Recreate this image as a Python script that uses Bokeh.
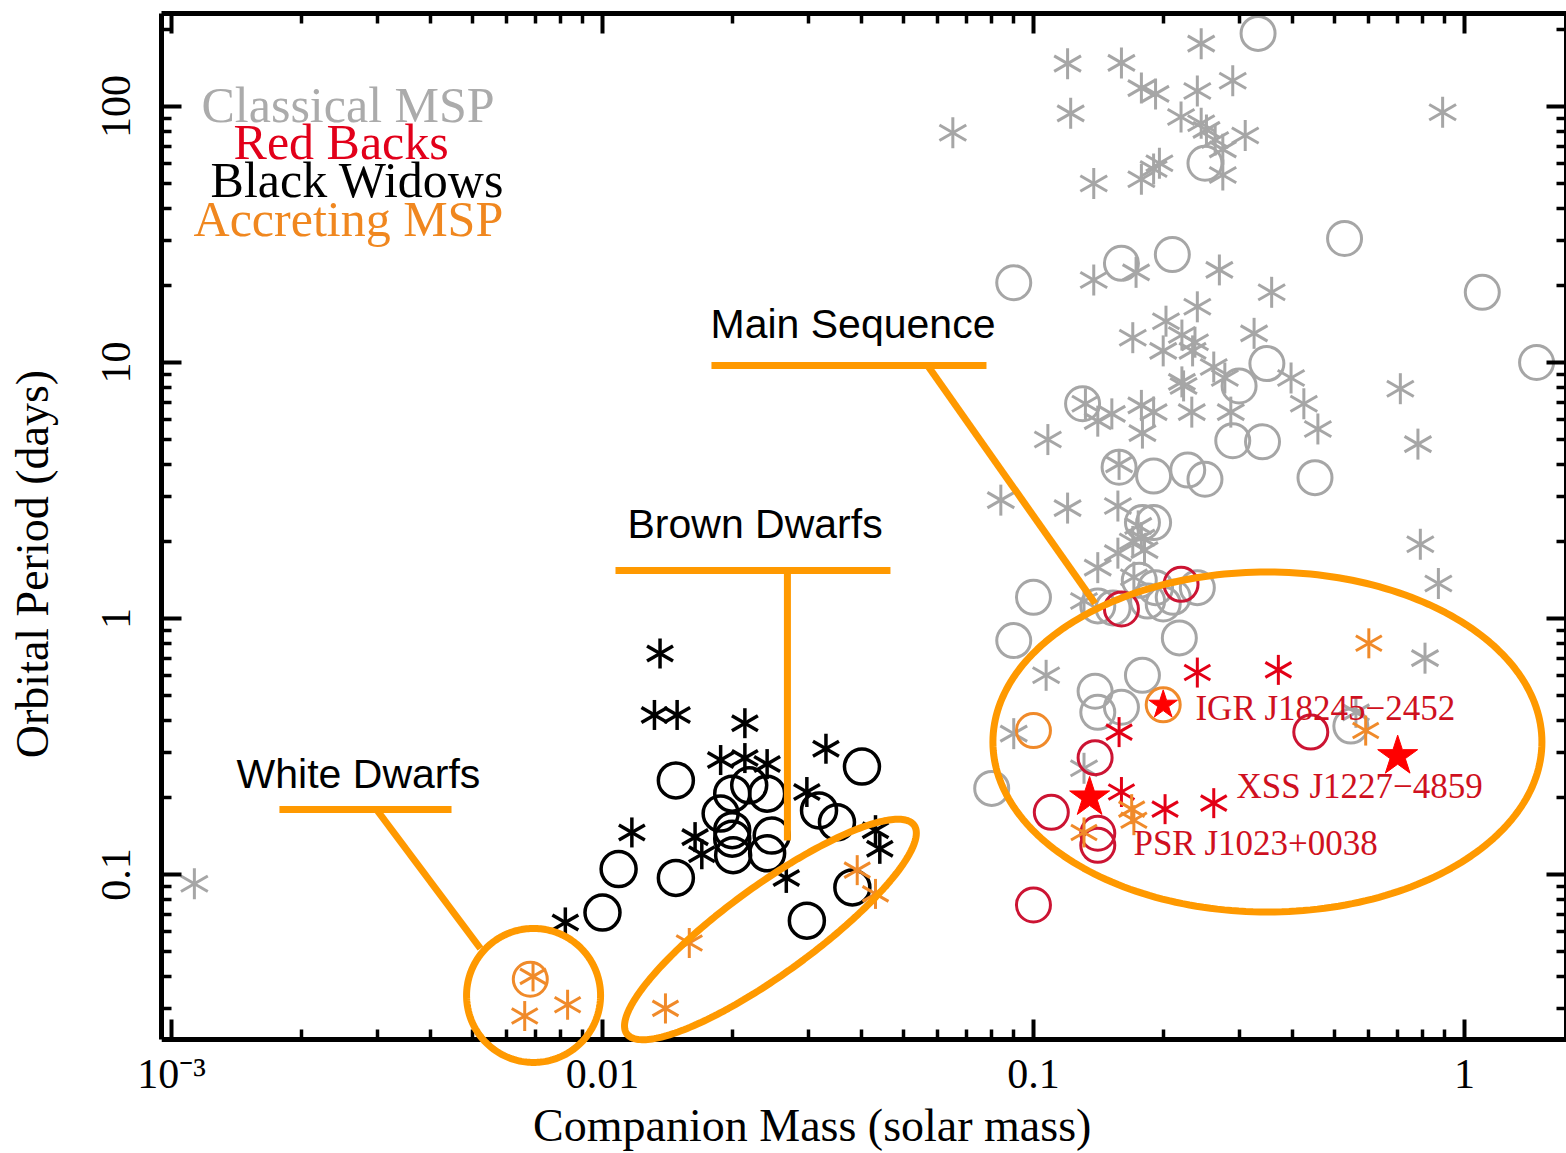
import math

from bokeh.core.properties import value
from bokeh.embed import file_html
from bokeh.models import ColumnDataSource, FixedTicker, LogAxis, PolyAnnotation, Range1d
from bokeh.plotting import figure
from bokeh.resources import INLINE

# ---------------------------------------------------------------------------
# Binary millisecond pulsars: companion mass (solar masses) vs orbital period (days)
# ---------------------------------------------------------------------------

# Classical MSPs (grey) - asterisks
msp_ast_mass = [0.245, 0.12, 0.16, 0.178, 0.192, 0.24, 0.29, 0.122, 0.065, 0.22,
                0.245, 0.252, 0.264, 0.275, 0.31, 0.89, 0.275, 0.138, 0.178, 0.19,
                0.196, 0.173, 0.138, 0.27, 0.357, 0.24, 0.203, 0.17, 0.221, 0.237,
                0.325, 0.2, 0.234, 0.262, 0.278, 0.221, 0.223, 0.396, 0.424, 0.457,
                0.71, 0.78, 0.132, 0.141, 0.152, 0.178, 0.19, 0.179, 0.233, 0.287,
                0.108, 0.084, 0.12, 0.157, 0.175, 0.17, 0.178, 0.157, 0.181, 0.79,
                0.87, 0.141, 0.171, 0.131, 0.81, 0.107, 0.09, 0.131, 0.56, 0.00113,
                0.158]
msp_ast_pb = [176, 147, 148, 118, 112, 115, 126, 94, 79, 91,
              86, 81, 74, 68, 77, 95, 54, 50, 52, 57,
              60, 22.5, 21, 23, 18.8, 16.5, 14.5, 12.5, 12.8, 12,
              13, 11.1, 11.1, 9.6, 8.7, 8.4, 8.1, 8.7, 6.9, 5.5,
              7.9, 4.8, 6.9, 5.9, 6.3, 6.8, 6.4, 5.3, 6.4, 6.4,
              5.0, 2.9, 2.7, 2.75, 2.3, 2.0, 2.07, 1.8, 1.85, 1.95,
              1.37, 1.58, 1.45, 1.17, 0.70, 0.60, 0.355, 0.26, 0.43, 0.092,
              4.0]

# Classical MSPs (grey) - circles
msp_circ_mass = [0.332, 0.25, 0.527, 0.09, 0.16, 0.21, 1.10, 0.348, 1.47, 0.30,
                 0.13, 0.29, 0.34, 0.158, 0.19, 0.228, 0.25, 0.45, 0.179, 0.19,
                 0.176, 0.192, 0.24, 0.1, 0.141, 0.153, 0.184, 0.2, 0.211, 0.09,
                 0.218, 0.179, 0.139, 0.141, 0.16, 0.08, 0.545]
msp_circ_pb = [193, 60, 30.5, 20.5, 24.4, 26.4, 18.8, 9.9, 10, 8.1,
               6.9, 4.95, 4.9, 3.9, 3.6, 3.8, 3.5, 3.55, 2.37, 2.37,
               1.41, 1.32, 1.32, 1.21, 1.12, 1.1, 1.17, 1.14, 1.21, 0.82,
               0.84, 0.60, 0.52, 0.43, 0.45, 0.217, 0.38]

# Black widows
bw_ast_mass = [0.0136, 0.0132, 0.0149, 0.0214, 0.0188, 0.0214, 0.0241, 0.033,
               0.0298, 0.0117, 0.0164, 0.017, 0.0267, 0.043, 0.044, 0.0082]
bw_ast_pb = [0.73, 0.42, 0.42, 0.39, 0.28, 0.285, 0.27, 0.31,
             0.21, 0.146, 0.14, 0.12, 0.097, 0.149, 0.126, 0.065]
bw_circ_mass = [0.0148, 0.020, 0.0219, 0.0241, 0.0188, 0.020, 0.020, 0.0247, 0.0201,
                0.0241, 0.040, 0.0318, 0.035, 0.0109, 0.0148, 0.038, 0.0298, 0.010]
bw_circ_pb = [0.233, 0.207, 0.223, 0.207, 0.173, 0.149, 0.138, 0.142, 0.119,
              0.121, 0.264, 0.178, 0.16, 0.105, 0.097, 0.089, 0.066, 0.071]

# Redbacks
rb_ast_mass = [0.24, 0.37, 0.158, 0.16, 0.202, 0.262]
rb_ast_pb = [0.615, 0.63, 0.36, 0.21, 0.18, 0.19]
rb_circ_mass = [0.139, 0.11, 0.141, 0.141, 0.44, 0.10, 0.16, 0.22]
rb_circ_pb = [0.286, 0.175, 0.145, 0.13, 0.36, 0.076, 1.09, 1.36]

# Accreting MSPs
acc_ast_mass = [0.0069, 0.0066, 0.0083, 0.0159, 0.014, 0.039, 0.043, 0.60, 0.59,
                0.169, 0.171, 0.131]
acc_ast_pb = [0.040, 0.028, 0.031, 0.054, 0.030, 0.104, 0.084, 0.80, 0.365,
              0.18, 0.163, 0.146]
acc_circ_mass = [0.0068, 0.2, 0.1]
acc_circ_pb = [0.039, 0.46, 0.365]

# Transitional redbacks (named)
tmsp_names = ["IGR J18245\u22122452", "XSS J1227\u22124859", "PSR J1023+0038"]
tmsp_mass = [0.2, 0.70, 0.135]
tmsp_pb = [0.46, 0.29, 0.20]

# Axis ticks
x_major = [0.001, 0.01, 0.1, 1.0]
x_labels = ["10\u207b\u00b3", "0.01", "0.1", "1"]
y_major = [0.1, 1.0, 10.0, 100.0]
y_labels = ["0.1", "1", "10", "100"]

# ---------------------------------------------------------------------------
# Colours and layout
# ---------------------------------------------------------------------------
GREY = "#a6a6a6"
BLACK = "#000000"
RED_AST = "#e30016"
RED_CIRC = "#cc1433"
ORANGE_PT = "#f08a2a"
ANNOT = "#ff9900"
SERIF = "Liberation Serif"
SANS = "Liberation Sans"

# Axis extents (where the drawn axes sit)
X_LO, X_HI = 0.000948, 1.725
Y_AX_LO, Y_HI = 0.02267, 230.8
# The frame reaches a little below the period axis so the
# white-dwarf ring can dip under it.
Y_FRAME_LO = 0.01747
FRAME_W, FRAME_H = 1405, 1055
PX_DEC_X = FRAME_W / (math.log10(X_HI) - math.log10(X_LO))
PX_DEC_Y = FRAME_H / (math.log10(Y_HI) - math.log10(Y_FRAME_LO))

p = figure(width=1566, height=1153,
           x_axis_type="log", y_axis_type="log",
           x_range=Range1d(X_LO, X_HI), y_range=Range1d(Y_FRAME_LO, Y_HI),
           output_backend="svg", toolbar_location=None,
           min_border_left=161, min_border_right=0,
           min_border_top=13, min_border_bottom=85)
p.border_fill_color = None
p.background_fill_color = "white"
p.outline_line_color = None
p.grid.visible = False


def minor_ticks(lo_exp, hi_exp, lo=0.0):
    return [k * 10.0 ** e for e in range(lo_exp, hi_exp) for k in range(2, 10)
            if k * 10.0 ** e > lo]


x_ticker = FixedTicker(ticks=x_major, minor_ticks=minor_ticks(-4, 1))
y_ticker = FixedTicker(ticks=y_major, minor_ticks=minor_ticks(-2, 3, Y_AX_LO))
no_ticks = FixedTicker(ticks=[], minor_ticks=[])


def style_axis(ax):
    ax.axis_line_width = 5
    ax.axis_line_color = "black"
    ax.major_tick_in = 20
    ax.major_tick_out = 0
    ax.minor_tick_in = 10
    ax.minor_tick_out = 0
    ax.major_tick_line_width = 4
    ax.minor_tick_line_width = 3.5
    ax.major_tick_line_color = "black"
    ax.minor_tick_line_color = "black"
    ax.major_label_text_font = SERIF
    ax.major_label_text_font_size = "42px"
    ax.major_label_text_color = "black"
    ax.axis_label_text_font = SERIF
    ax.axis_label_text_font_size = "46px"
    ax.axis_label_text_font_style = "normal"
    ax.axis_label_text_color = "black"


def hide_lines(ax):
    ax.axis_line_color = None
    ax.major_tick_line_color = None
    ax.minor_tick_line_color = None


def hide_labels(ax):
    ax.major_label_text_font_size = "1px"
    ax.major_label_text_color = None
    ax.major_label_standoff = 0


NB = "\u00a0"

# Mass axis: labels sit in the panel below the frame ...
xa = p.xaxis[0]
xa.ticker = x_ticker
xa.major_label_overrides = dict(zip(x_major, x_labels))
style_axis(xa)
hide_lines(xa)
xa.major_label_standoff = -18
xa.axis_label = "Companion Mass (solar mass)" + NB * 9
xa.axis_label_standoff = 0

# ... while the line and ticks are drawn at the lower period limit
x_line = LogAxis(ticker=x_ticker, fixed_location=Y_AX_LO)
style_axis(x_line)
hide_labels(x_line)
p.add_layout(x_line, "below")

# Period axis
ya = p.yaxis[0]
ya.ticker = y_ticker
ya.major_label_overrides = dict(zip(y_major, y_labels))
style_axis(ya)
ya.bounds = (Y_AX_LO, Y_HI)
ya.major_label_orientation = "vertical"
ya.major_label_standoff = 31

y_title = LogAxis(ticker=no_ticks)
style_axis(y_title)
hide_lines(y_title)
hide_labels(y_title)
y_title.axis_label = "Orbital Period (days)" + NB * 4
y_title.axis_label_standoff = 42
p.add_layout(y_title, "left")

# Tick-only frame edges on top and right
top_ax = LogAxis(ticker=x_ticker)
style_axis(top_ax)
hide_labels(top_ax)
p.add_layout(top_ax, "above")

right_ax = LogAxis(ticker=y_ticker, bounds=(Y_AX_LO, Y_HI))
style_axis(right_ax)
hide_labels(right_ax)
p.add_layout(right_ax, "right")


# ---------------------------------------------------------------------------
# Markers
# ---------------------------------------------------------------------------
def asterisks(mass, pb, color, size, lw):
    src = ColumnDataSource(dict(x=mass, y=pb))
    for ang in (math.pi / 2, math.pi / 6, -math.pi / 6):
        p.scatter("x", "y", source=src, marker="dash", angle=ang, size=size,
                  line_color=color, line_width=lw)


def circles(mass, pb, color, size, lw):
    p.scatter(mass, pb, marker="circle", size=size, fill_color=None,
              line_color=color, line_width=lw)


circles(msp_circ_mass, msp_circ_pb, GREY, 34, 3)
asterisks(msp_ast_mass, msp_ast_pb, GREY, 31, 3)
circles(bw_circ_mass, bw_circ_pb, BLACK, 35, 3.5)
asterisks(bw_ast_mass, bw_ast_pb, BLACK, 30, 3.5)
circles(rb_circ_mass, rb_circ_pb, RED_CIRC, 34, 3)
asterisks(rb_ast_mass, rb_ast_pb, RED_AST, 30, 3)
circles(acc_circ_mass, acc_circ_pb, ORANGE_PT, 34, 3)
asterisks(acc_ast_mass, acc_ast_pb, ORANGE_PT, 30, 3)

p.scatter(tmsp_mass, tmsp_pb, marker="star", size=[30, 42, 42],
          fill_color="#ff0000", line_color="#ff0000", line_width=1)

# Names of the transitional systems
tmsp_label_x = [0.2376, 0.2958, 0.1706]
tmsp_label_y = [0.445, 0.221, 0.132]
p.text(tmsp_label_x, tmsp_label_y, text=tmsp_names, text_color="#cf1020",
       text_font=value(SERIF), text_font_size="35px",
       text_align="left", text_baseline="alphabetic")

# ---------------------------------------------------------------------------
# Legend (coloured words)
# ---------------------------------------------------------------------------
legend_src = ColumnDataSource(dict(
    x=[0.001174, 0.001393, 0.001232, 0.001125],
    y=[101.0, 72.4, 51.4, 36.5],
    text=["Classical MSP", "Red Backs", "Black Widows", "Accreting MSP"],
    color=["#ababab", "#e2001a", "#000000", "#f0871f"],
))
p.text("x", "y", text="text", text_color="color", source=legend_src,
       text_font=value(SERIF), text_font_size="50px",
       text_align="left", text_baseline="alphabetic")

# ---------------------------------------------------------------------------
# Population call-outs
# ---------------------------------------------------------------------------
p.text([0.01781, 0.01143, 0.001416], [14.2, 2.35, 0.246],
       text=["Main Sequence", "Brown Dwarfs", "White Dwarfs"],
       text_color="black", text_font=value(SANS), text_font_size="41px",
       text_align="left", text_baseline="alphabetic")

callouts = [
    ([0.0179, 0.0778], [9.73, 9.73]),
    ([0.0568, 0.139], [9.73, 1.144]),
    ([0.01072, 0.04658], [1.54, 1.54]),
    ([0.02686, 0.02686], [1.54, 0.1358]),
    ([0.00178, 0.004464], [0.1795, 0.1795]),
    ([0.00299, 0.00521], [0.1795, 0.0514]),
]
p.multi_line([c[0] for c in callouts], [c[1] for c in callouts],
             line_color=ANNOT, line_width=7)


def ring(cx, cy, w, h, angle_deg, n=240):
    """Outline of an ellipse of w x h pixels, centred on (cx, cy)."""
    th = math.radians(angle_deg)
    lx0, ly0 = math.log10(cx), math.log10(cy)
    xs, ys = [], []
    for i in range(n):
        t = 2 * math.pi * i / n
        dx, dy = w / 2 * math.cos(t), h / 2 * math.sin(t)
        rx = dx * math.cos(th) - dy * math.sin(th)
        ry = dx * math.sin(th) + dy * math.cos(th)
        xs.append(10 ** (lx0 + rx / PX_DEC_X))
        ys.append(10 ** (ly0 + ry / PX_DEC_Y))
    return xs, ys


for cx, cy, w, h, ang in [(0.00692, 0.0337, 134, 134, 0),
                          (0.02453, 0.0610, 355, 88, 36),
                          (0.349, 0.3294, 549, 340, 0)]:
    xs, ys = ring(cx, cy, w, h, ang)
    p.add_layout(PolyAnnotation(xs=xs, ys=ys, fill_alpha=0, line_alpha=1.0,
                                line_color=ANNOT, line_width=7))

html = file_html(p, INLINE, title="Binary millisecond pulsars")
page_bg = ("margin:0;background:"
           "linear-gradient(#8fb0d8,#8fb0d8) 0 0/100% 6px no-repeat,"
           "linear-gradient(to bottom,#8fb0d8,#f3f6fb) 0 0/11px 100% no-repeat,"
           "#ffffff;")
html = html.replace("<body>", '<body style="%s">' % page_bg, 1)
open("out.html", "w").write(html)
